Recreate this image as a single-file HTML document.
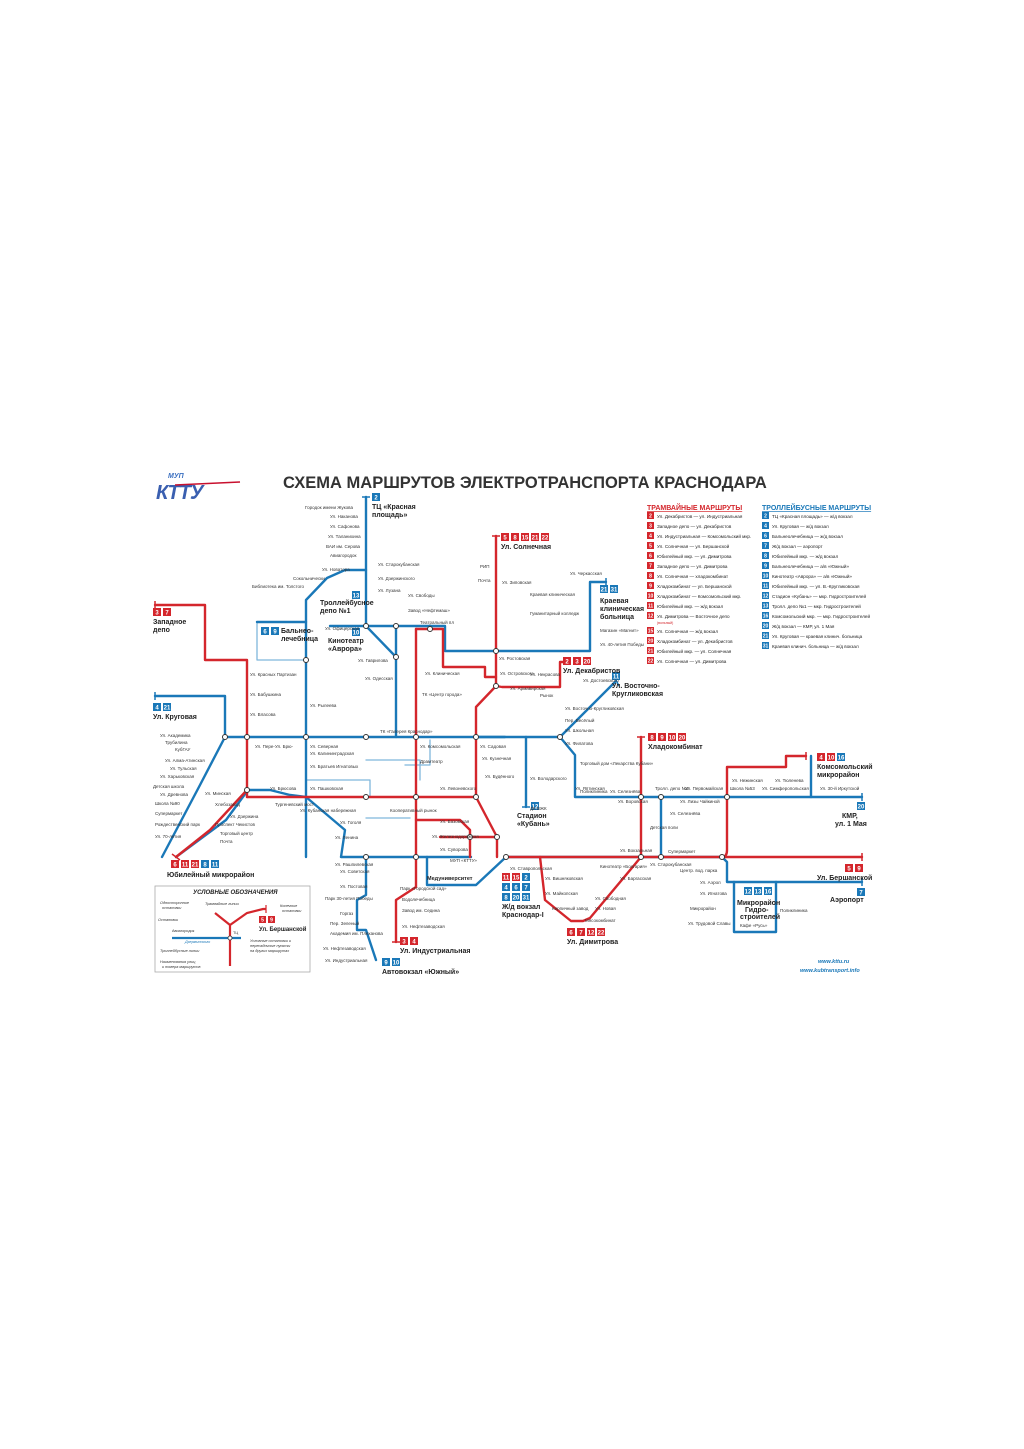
<!DOCTYPE html>
<html><head><meta charset="utf-8"><style>
html,body{margin:0;padding:0;background:#fff}
svg{display:block}
text{font-family:"Liberation Sans",sans-serif}
</style></head><body>
<svg width="1024" height="1449" viewBox="0 0 1024 1449" xmlns="http://www.w3.org/2000/svg">
<rect width="1024" height="1449" fill="#fff"/>
<!-- logo -->
<text x="168" y="478" font-size="7" font-style="italic" font-weight="bold" fill="#3a6fc0">МУП</text>
<text x="156" y="499" font-size="20" font-style="italic" font-weight="bold" fill="#3a5fb0" letter-spacing="-1">КТТУ</text>
<path d="M175 485 L240 482" stroke="#c8102e" stroke-width="1.5"/>
<!-- title -->
<text x="283" y="488" font-size="16.5" font-weight="bold" fill="#333">СХЕМА МАРШРУТОВ ЭЛЕКТРОТРАНСПОРТА КРАСНОДАРА</text>

<g fill="none" stroke-linecap="round" stroke-linejoin="round">
<!-- light blue lines -->
<g stroke="#7fb6dc" stroke-width="1.3">
<path d="M257 622 V660 H306"/>
<path d="M306 780 H370 V797"/>
<path d="M366 760 H420 V780"/>
<path d="M366 818 H410"/>
<path d="M430 740 V765 H405"/>
</g>
<!-- blue trolleybus -->
<g stroke="#1a78b8" stroke-width="2.4">
<path d="M257 622 H306"/>
<path d="M366 497 V626 L396 657"/>
<path d="M366 570 H345 L327 578 L306 600 V857"/>
<path d="M366 626 H330"/>
<path d="M366 626 H445 V651 H590 V582 H606"/>
<path d="M396 626 V737"/>
<path d="M155 696 H225 V737 L200 785 L162 857"/>
<path d="M225 737 H560"/>
<path d="M560 737 L575 755 V797 H862"/>
<path d="M560 737 L615 682"/>
<path d="M526 737 V807"/>
<path d="M476 737 H505"/>
<path d="M248 790 L226 820 L176 857"/>
<path d="M248 790 H270 L290 795 L306 797"/>
<path d="M306 797 L345 830 L341 857 H471"/>
<path d="M366 857 V895 L357 900 V930 H366 L376 960"/>
<path d="M506 857 L476 885 H427 V857"/>
<path d="M661 797 V857"/>
<path d="M506 857 H722 L727 862 V882 H862"/>
<path d="M734 882 V932 H776 V882"/>
<path d="M811 756 V797"/>
</g>
<!-- red tram -->
<g stroke="#d4262c" stroke-width="2.4">
<path d="M155 605 H205 V660 H247 V797"/>
<path d="M247 790 L210 830 L176 857"/>
<path d="M247 797 H476"/>
<path d="M496 536 V686 L476 707 V797 L497 837 V857"/>
<path d="M416 629 H443 V667 H485 V677 H496"/>
<path d="M496 686 L502 687 H560 V662 H565"/>
<path d="M416 629 V887 L396 900 V942"/>
<path d="M416 820 H460 L470 830 V857"/>
<path d="M440 837 H497"/>
<path d="M641 737 V857 L590 918 L583 921 H571 L545 900 L540 857"/>
<path d="M506 857 H862"/>
<path d="M722 857 Q727 857 727 850 V767 H786 V756 H806"/>
</g>
</g>
<!-- end caps -->
<g stroke="#d4262c" stroke-width="1.5">
<path d="M492 536 H500 M637 737 H645 M155 601 V609 M172 854 L180 860 M806 752 V760 M862 853 V861 M392 942 H400"/>
</g>
<g stroke="#1a78b8" stroke-width="1.5">
<path d="M362 497 H370 M155 692 V700 M522 807 H530 M862 878 V886 M606 578 V586 M615 678 L619 686 M862 793 V801"/>
</g>
<!-- transfer nodes -->
<g fill="#fff" stroke="#333" stroke-width="1">
<circle cx="225" cy="737" r="2.5"/><circle cx="247" cy="737" r="2.5"/><circle cx="306" cy="737" r="2.5"/>
<circle cx="366" cy="737" r="2.5"/><circle cx="416" cy="737" r="2.5"/><circle cx="476" cy="737" r="2.5"/>
<circle cx="560" cy="737" r="2.5"/><circle cx="366" cy="797" r="2.5"/><circle cx="416" cy="797" r="2.5"/>
<circle cx="476" cy="797" r="2.5"/><circle cx="366" cy="857" r="2.5"/><circle cx="416" cy="857" r="2.5"/>
<circle cx="506" cy="857" r="2.5"/><circle cx="641" cy="857" r="2.5"/><circle cx="661" cy="857" r="2.5"/>
<circle cx="722" cy="857" r="2.5"/><circle cx="641" cy="797" r="2.5"/><circle cx="727" cy="797" r="2.5"/>
<circle cx="496" cy="651" r="2.5"/><circle cx="366" cy="626" r="2.5"/><circle cx="396" cy="657" r="2.5"/>
<circle cx="430" cy="629" r="2.5"/><circle cx="247" cy="790" r="2.5"/><circle cx="470" cy="837" r="2.5"/><circle cx="497" cy="837" r="2.5"/>
<circle cx="306" cy="660" r="2.5"/><circle cx="396" cy="626" r="2.5"/><circle cx="496" cy="686" r="2.5"/><circle cx="661" cy="797" r="2.5"/>
</g>

<g font-size="6" font-weight="bold" fill="#fff" text-anchor="middle">
<rect x="372" y="493" width="8" height="8" fill="#1a78b8"/><text x="376" y="499.5">2</text>
<rect x="501" y="533" width="8" height="8" fill="#d4262c"/><rect x="511" y="533" width="8" height="8" fill="#d4262c"/><rect x="521" y="533" width="8" height="8" fill="#d4262c"/><rect x="531" y="533" width="8" height="8" fill="#d4262c"/><rect x="541" y="533" width="8" height="8" fill="#d4262c"/>
<text x="505" y="539.5">5</text><text x="515" y="539.5">8</text><text x="525" y="539.5">15</text><text x="535" y="539.5">21</text><text x="545" y="539.5">22</text>
<rect x="600" y="585" width="8" height="8" fill="#1a78b8"/><rect x="610" y="585" width="8" height="8" fill="#1a78b8"/><text x="604" y="591.5">21</text><text x="614" y="591.5">31</text>
<rect x="563" y="657" width="8" height="8" fill="#d4262c"/><rect x="573" y="657" width="8" height="8" fill="#d4262c"/><rect x="583" y="657" width="8" height="8" fill="#d4262c"/><text x="567" y="663.5">2</text><text x="577" y="663.5">3</text><text x="587" y="663.5">20</text>
<rect x="612" y="672" width="8" height="8" fill="#1a78b8"/><text x="616" y="678.5">11</text>
<rect x="153" y="608" width="8" height="8" fill="#d4262c"/><rect x="163" y="608" width="8" height="8" fill="#d4262c"/><text x="157" y="614.5">3</text><text x="167" y="614.5">7</text>
<rect x="153" y="703" width="8" height="8" fill="#1a78b8"/><rect x="163" y="703" width="8" height="8" fill="#1a78b8"/><text x="157" y="709.5">4</text><text x="167" y="709.5">21</text>
<rect x="261" y="627" width="8" height="8" fill="#1a78b8"/><rect x="271" y="627" width="8" height="8" fill="#1a78b8"/><text x="265" y="633.5">6</text><text x="275" y="633.5">9</text>
<rect x="352" y="591" width="8" height="8" fill="#1a78b8"/><text x="356" y="597.5">13</text>
<rect x="352" y="628" width="8" height="8" fill="#1a78b8"/><text x="356" y="634.5">10</text>
<rect x="648" y="733" width="8" height="8" fill="#d4262c"/><rect x="658" y="733" width="8" height="8" fill="#d4262c"/><rect x="668" y="733" width="8" height="8" fill="#d4262c"/><rect x="678" y="733" width="8" height="8" fill="#d4262c"/><text x="652" y="739.5">8</text><text x="662" y="739.5">9</text><text x="672" y="739.5">10</text><text x="682" y="739.5">20</text>
<rect x="817" y="753" width="8" height="8" fill="#d4262c"/><rect x="827" y="753" width="8" height="8" fill="#d4262c"/><rect x="837" y="753" width="8" height="8" fill="#1a78b8"/><text x="821" y="759.5">4</text><text x="831" y="759.5">10</text><text x="841" y="759.5">16</text>
<rect x="857" y="802" width="8" height="8" fill="#1a78b8"/><text x="861" y="808.5">20</text>
<rect x="531" y="802" width="8" height="8" fill="#1a78b8"/><text x="535" y="808.5">12</text>
<rect x="171" y="860" width="8" height="8" fill="#d4262c"/><rect x="181" y="860" width="8" height="8" fill="#d4262c"/><rect x="191" y="860" width="8" height="8" fill="#d4262c"/><rect x="201" y="860" width="8" height="8" fill="#1a78b8"/><rect x="211" y="860" width="8" height="8" fill="#1a78b8"/>
<text x="175" y="866.5">6</text><text x="185" y="866.5">11</text><text x="195" y="866.5">21</text><text x="205" y="866.5">8</text><text x="215" y="866.5">11</text>
<rect x="845" y="864" width="8" height="8" fill="#d4262c"/><rect x="855" y="864" width="8" height="8" fill="#d4262c"/><text x="849" y="870.5">5</text><text x="859" y="870.5">9</text>
<rect x="857" y="888" width="8" height="8" fill="#1a78b8"/><text x="861" y="894.5">7</text>
<rect x="744" y="887" width="8" height="8" fill="#1a78b8"/><rect x="754" y="887" width="8" height="8" fill="#1a78b8"/><rect x="764" y="887" width="8" height="8" fill="#1a78b8"/><text x="748" y="893.5">12</text><text x="758" y="893.5">13</text><text x="768" y="893.5">16</text>
<rect x="502" y="873" width="8" height="8" fill="#d4262c"/><rect x="512" y="873" width="8" height="8" fill="#d4262c"/><rect x="522" y="873" width="8" height="8" fill="#1a78b8"/><text x="506" y="879.5">11</text><text x="516" y="879.5">15</text><text x="526" y="879.5">2</text>
<rect x="502" y="883" width="8" height="8" fill="#1a78b8"/><rect x="512" y="883" width="8" height="8" fill="#1a78b8"/><rect x="522" y="883" width="8" height="8" fill="#1a78b8"/><text x="506" y="889.5">4</text><text x="516" y="889.5">6</text><text x="526" y="889.5">7</text>
<rect x="502" y="893" width="8" height="8" fill="#1a78b8"/><rect x="512" y="893" width="8" height="8" fill="#1a78b8"/><rect x="522" y="893" width="8" height="8" fill="#1a78b8"/><text x="506" y="899.5">8</text><text x="516" y="899.5">20</text><text x="526" y="899.5">31</text>
<rect x="567" y="928" width="8" height="8" fill="#d4262c"/><rect x="577" y="928" width="8" height="8" fill="#d4262c"/><rect x="587" y="928" width="8" height="8" fill="#d4262c"/><rect x="597" y="928" width="8" height="8" fill="#d4262c"/><text x="571" y="934.5">6</text><text x="581" y="934.5">7</text><text x="591" y="934.5">12</text><text x="601" y="934.5">22</text>
<rect x="400" y="937" width="8" height="8" fill="#d4262c"/><rect x="410" y="937" width="8" height="8" fill="#d4262c"/><text x="404" y="943.5">3</text><text x="414" y="943.5">4</text>
<rect x="382" y="958" width="8" height="8" fill="#1a78b8"/><rect x="392" y="958" width="8" height="8" fill="#1a78b8"/><text x="386" y="964.5">9</text><text x="396" y="964.5">10</text>
</g>

<g font-size="7" font-weight="bold" fill="#222">
<text x="372" y="509">ТЦ «Красная</text><text x="372" y="517">площадь»</text>
<text x="501" y="549">Ул. Солнечная</text>
<text x="600" y="603">Краевая</text><text x="600" y="611">клиническая</text><text x="600" y="619">больница</text>
<text x="563" y="673">Ул. Декабристов</text>
<text x="612" y="688">Ул. Восточно-</text><text x="612" y="696">Кругликовская</text>
<text x="153" y="624">Западное</text><text x="153" y="632">депо</text>
<text x="153" y="719">Ул. Круговая</text>
<text x="281" y="633">Бальнео-</text><text x="281" y="641">лечебница</text>
<text x="320" y="605">Троллейбусное</text><text x="320" y="613">депо №1</text>
<text x="328" y="643">Кинотеатр</text><text x="328" y="651">«Аврора»</text>
<text x="648" y="749">Хладокомбинат</text>
<text x="817" y="769">Комсомольский</text><text x="817" y="777">микрорайон</text>
<text x="842" y="818">КМР,</text><text x="835" y="826">ул. 1 Мая</text>
<text x="517" y="818">Стадион</text><text x="517" y="826">«Кубань»</text>
<text x="167" y="877">Юбилейный микрорайон</text>
<text x="817" y="880">Ул. Бершанской</text>
<text x="830" y="902">Аэропорт</text>
<text x="737" y="905">Микрорайон</text><text x="745" y="912">Гидро-</text><text x="740" y="919">строителей</text>
<text x="502" y="909">Ж/д вокзал</text><text x="502" y="917">Краснодар-I</text>
<text x="567" y="944">Ул. Димитрова</text>
<text x="400" y="953">Ул. Индустриальная</text>
<text x="382" y="974">Автовокзал «Южный»</text>
<text x="427" y="880" font-size="5.5">Медуниверситет</text>
</g>

<g font-size="4.5" fill="#333">
<text x="305" y="509">Городок имени Жукова</text>
<text x="330" y="518">Ул. Наканова</text><text x="330" y="528">Ул. Сафонова</text><text x="328" y="538">Ул. Таланихина</text>
<text x="326" y="548">ВАИ им. Серова</text><text x="330" y="557">Авиагородок</text>
<text x="378" y="566">Ул. Старокубанская</text><text x="322" y="571">Ул. Новатора</text>
<text x="293" y="580">Сокольнически</text><text x="378" y="580">Ул. Дзержинского</text>
<text x="252" y="588">Библиотека им. Толстого</text><text x="378" y="592">Ул. Лузана</text><text x="408" y="597">Ул. Свободы</text>
<text x="408" y="612">Завод «Нефтемаш»</text><text x="325" y="630">Ул. Офицерская</text>
<text x="420" y="624">Театральный пл</text><text x="358" y="662">Ул. Гаврилова</text><text x="365" y="680">Ул. Одесская</text>
<text x="425" y="675">Ул. Клиническая</text><text x="422" y="696">ТК «Центр города»</text>
<text x="502" y="584">Ул. Зиповская</text><text x="480" y="568">РИП</text><text x="478" y="582">Почта</text>
<text x="499" y="660">Ул. Ростовская</text><text x="500" y="675">Ул. Островского</text>
<text x="530" y="676">Ул. Некрасова</text><text x="510" y="690">Ул. Армавирская</text>
<text x="583" y="682">Ул. Достоевского</text><text x="600" y="632">Магазин «Магнит»</text><text x="600" y="646">Ул. 40-летия Победы</text>
<text x="530" y="596">Краевая клиническая</text><text x="530" y="615">Гуманитарный колледж</text><text x="570" y="575">Ул. Черкасская</text>
<text x="540" y="697">Рынок</text><text x="565" y="710">Ул. Восточно-Кругликовская</text><text x="565" y="722">Пер. Весёлый</text>
<text x="565" y="732">Ул. Школьная</text><text x="565" y="745">Ул. Филатова</text>
<text x="160" y="737">Ул. Академика</text><text x="165" y="744">Трубилина</text><text x="175" y="751">КубГАУ</text>
<text x="165" y="762">Ул. Алма-Атинская</text><text x="170" y="770">Ул. Тульская</text><text x="160" y="778">Ул. Харьковская</text>
<text x="153" y="788">Детская школа</text><text x="160" y="796">Ул. Древнова</text><text x="155" y="805">Школа №90</text>
<text x="155" y="815">Супермаркет</text><text x="155" y="826">Рождественский парк</text><text x="155" y="838">Ул. 70-летия</text>
<text x="205" y="795">Ул. Минская</text><text x="215" y="806">Хлебозавод</text><text x="230" y="818">Ул. Дзержина</text>
<text x="215" y="826">Проспект Чекистов</text><text x="220" y="835">Торговый центр</text><text x="220" y="843">Почта</text>
<text x="250" y="676">Ул. Красных Партизан</text><text x="250" y="696">Ул. Бабушкина</text><text x="250" y="716">Ул. Власова</text>
<text x="310" y="707">Ул. Рылеева</text><text x="255" y="748">Ул. Пере-</text><text x="275" y="748">Ул. Брю-</text>
<text x="310" y="748">Ул. Северная</text><text x="310" y="755">Ул. Калининградская</text><text x="310" y="768">Ул. Братьев Игнатовых</text>
<text x="270" y="790">Ул. Брюсова</text><text x="275" y="806">Тургеневский мост</text><text x="300" y="812">Ул. Кубанская набережная</text>
<text x="310" y="790">Ул. Пашковская</text><text x="340" y="824">Ул. Гоголя</text><text x="335" y="839">Ул. Ленина</text>
<text x="335" y="866">Ул. Рашпилевская</text><text x="340" y="873">Ул. Советская</text><text x="340" y="888">Ул. Постовая</text>
<text x="325" y="900">Парк 30-летия Победы</text><text x="340" y="915">Горгаз</text><text x="330" y="925">Пер. Зеленый</text>
<text x="330" y="935">Академия им. Плеханова</text><text x="323" y="950">Ул. Нефтезаводская</text><text x="325" y="962">Ул. Индустриальная</text>
<text x="380" y="733">ТК «Галерея Краснодар»</text><text x="420" y="763">Драмтеатр</text><text x="420" y="748">Ул. Комсомольская</text>
<text x="440" y="790">Ул. Левоневского</text><text x="390" y="812">Кооперативный рынок</text><text x="440" y="823">Ул. Базовская</text>
<text x="432" y="838">Ул. Железнодорожная</text><text x="440" y="851">Ул. Суворова</text><text x="450" y="862">МУП «КТТУ»</text>
<text x="400" y="890">Парк «Городской сад»</text><text x="402" y="901">Водолечебница</text><text x="402" y="912">Завод им. Седина</text>
<text x="402" y="928">Ул. Нефтезаводская</text><text x="480" y="748">Ул. Садовая</text><text x="482" y="760">Ул. Кузнечная</text>
<text x="485" y="778">Ул. Будённого</text><text x="530" y="780">Ул. Володарского</text><text x="530" y="810">ДК ВЖК</text>
<text x="580" y="765">Торговый дом «Лекарства Кубани»</text><text x="575" y="790">Ул. Яптинская</text>
<text x="580" y="793">Поликлиника</text><text x="610" y="793">Ул. Селезнёва</text><text x="618" y="803">Ул. Воровская</text>
<text x="655" y="790">Тролл. депо №2</text><text x="680" y="803">Ул. Лизы Чайкиной</text><text x="670" y="815">Ул. Селезнёва</text>
<text x="650" y="829">Детская поли</text><text x="620" y="852">Ул. Вокзальная</text><text x="668" y="853">Супермаркет</text>
<text x="685" y="790">Ул. Первомайская</text><text x="730" y="790">Школа №53</text><text x="762" y="790">Ул. Симферопольская</text>
<text x="732" y="782">Ул. Нежинская</text><text x="775" y="782">Ул. Тюленева</text><text x="820" y="790">Ул. 30-й Иркутской</text>
<text x="510" y="870">Ул. Ставропольская</text><text x="545" y="880">Ул. Вишняковская</text><text x="545" y="895">Ул. Майкопская</text>
<text x="552" y="910">Кирпичный завод</text><text x="595" y="900">Ул. Свободная</text><text x="595" y="910">Ул. Новая</text>
<text x="585" y="922">Мясокомбинат</text><text x="600" y="868">Кинотеатр «Болгария»</text><text x="620" y="880">Ул. Баргасская</text>
<text x="650" y="866">Ул. Старокубанская</text><text x="680" y="872">Центр. вод. парка</text><text x="700" y="884">Ул. Аэрол</text>
<text x="700" y="895">Ул. Игнатова</text><text x="690" y="910">Микрорайон</text><text x="688" y="925">Ул. Трудовой Славы</text>
<text x="740" y="927">Кафе «Русь»</text><text x="780" y="912">Поликлиника</text>
</g>

<g font-size="6.2" font-weight="bold">
<text x="647" y="510" fill="#d4262c" font-size="7" text-decoration="underline">ТРАМВАЙНЫЕ МАРШРУТЫ</text>
<text x="762" y="510" fill="#1a78b8" font-size="7" text-decoration="underline">ТРОЛЛЕЙБУСНЫЕ МАРШРУТЫ</text>
</g>
<g font-size="4.6" fill="#222">
<g fill="#d4262c">
<rect x="647" y="512" width="7" height="7"/><rect x="647" y="522" width="7" height="7"/><rect x="647" y="532" width="7" height="7"/><rect x="647" y="542" width="7" height="7"/><rect x="647" y="552" width="7" height="7"/><rect x="647" y="562" width="7" height="7"/><rect x="647" y="572" width="7" height="7"/><rect x="647" y="582" width="7" height="7"/><rect x="647" y="592" width="7" height="7"/><rect x="647" y="602" width="7" height="7"/><rect x="647" y="612" width="7" height="7"/><rect x="647" y="627" width="7" height="7"/><rect x="647" y="637" width="7" height="7"/><rect x="647" y="647" width="7" height="7"/><rect x="647" y="657" width="7" height="7"/>
</g>
<g fill="#1a78b8">
<rect x="762" y="512" width="7" height="7"/><rect x="762" y="522" width="7" height="7"/><rect x="762" y="532" width="7" height="7"/><rect x="762" y="542" width="7" height="7"/><rect x="762" y="552" width="7" height="7"/><rect x="762" y="562" width="7" height="7"/><rect x="762" y="572" width="7" height="7"/><rect x="762" y="582" width="7" height="7"/><rect x="762" y="592" width="7" height="7"/><rect x="762" y="602" width="7" height="7"/><rect x="762" y="612" width="7" height="7"/><rect x="762" y="622" width="7" height="7"/><rect x="762" y="632" width="7" height="7"/><rect x="762" y="642" width="7" height="7"/>
</g>
<g fill="#fff" font-weight="bold" text-anchor="middle" font-size="5">
<text x="650.5" y="517.5">2</text><text x="650.5" y="527.5">3</text><text x="650.5" y="537.5">4</text><text x="650.5" y="547.5">5</text><text x="650.5" y="557.5">6</text><text x="650.5" y="567.5">7</text><text x="650.5" y="577.5">8</text><text x="650.5" y="587.5">9</text><text x="650.5" y="597.5">10</text><text x="650.5" y="607.5">11</text><text x="650.5" y="617.5">12</text><text x="650.5" y="632.5">15</text><text x="650.5" y="642.5">20</text><text x="650.5" y="652.5">21</text><text x="650.5" y="662.5">22</text>
<text x="765.5" y="517.5">2</text><text x="765.5" y="527.5">4</text><text x="765.5" y="537.5">6</text><text x="765.5" y="547.5">7</text><text x="765.5" y="557.5">8</text><text x="765.5" y="567.5">9</text><text x="765.5" y="577.5">10</text><text x="765.5" y="587.5">11</text><text x="765.5" y="597.5">12</text><text x="765.5" y="607.5">13</text><text x="765.5" y="617.5">16</text><text x="765.5" y="627.5">20</text><text x="765.5" y="637.5">21</text><text x="765.5" y="647.5">31</text>
</g>
<text x="657" y="518">Ул. Декабристов — ул. Индустриальная</text>
<text x="657" y="528">Западное депо — ул. Декабристов</text>
<text x="657" y="538">Ул. Индустриальная — Комсомольский мкр.</text>
<text x="657" y="548">Ул. Солнечная — ул. Бершанской</text>
<text x="657" y="558">Юбилейный мкр. — ул. Димитрова</text>
<text x="657" y="568">Западное депо — ул. Димитрова</text>
<text x="657" y="578">Ул. Солнечная — хладокомбинат</text>
<text x="657" y="588">Хладокомбинат — ул. Бершанской</text>
<text x="657" y="598">Хладокомбинат — Комсомольский мкр.</text>
<text x="657" y="608">Юбилейный мкр. — ж/д вокзал</text>
<text x="657" y="618">Ул. Димитрова — Восточное депо</text>
<text x="657" y="624" font-size="3.5" fill="#d4262c">(вольный)</text>
<text x="657" y="633">Ул. Солнечная — ж/д вокзал</text>
<text x="657" y="643">Хладокомбинат — ул. Декабристов</text>
<text x="657" y="653">Юбилейный мкр. — ул. Солнечная</text>
<text x="657" y="663">Ул. Солнечная — ул. Димитрова</text>
<text x="772" y="518">ТЦ «Красная площадь» — ж/д вокзал</text>
<text x="772" y="528">Ул. Круговая — ж/д вокзал</text>
<text x="772" y="538">Бальнеолечебница — ж/д вокзал</text>
<text x="772" y="548">Ж/д вокзал — аэропорт</text>
<text x="772" y="558">Юбилейный мкр. — ж/д вокзал</text>
<text x="772" y="568">Бальнеолечебница — а/в «Южный»</text>
<text x="772" y="578">Кинотеатр «Аврора» — а/в «Южный»</text>
<text x="772" y="588">Юбилейный мкр. — ул. В.-Кругликовская</text>
<text x="772" y="598">Стадион «Кубань» — мкр. Гидростроителей</text>
<text x="772" y="608">Тролл. депо №1 — мкр. Гидростроителей</text>
<text x="772" y="618">Комсомольский мкр. — мкр. Гидростроителей</text>
<text x="772" y="628">Ж/д вокзал — КМР, ул. 1 Мая</text>
<text x="772" y="638">Ул. Круговая — краевая клинич. больница</text>
<text x="772" y="648">Краевая клинич. больница — ж/д вокзал</text>
</g>

<rect x="155" y="886" width="155" height="86" fill="#fff" stroke="#aaa" stroke-width="0.8"/>
<text x="193" y="894" font-size="6" font-weight="bold" font-style="italic" fill="#222">УСЛОВНЫЕ ОБОЗНАЧЕНИЯ</text>
<g fill="none" stroke-width="2.2">
<path d="M172 938 H241" stroke="#1a78b8"/>
<path d="M215 913 L230 925 L247 913 L263 909 H266 M230 925 V966" stroke="#d4262c"/>
<path d="M266 905 V913" stroke="#d4262c" stroke-width="1.2"/>
</g>
<circle cx="230" cy="938" r="2" fill="#fff" stroke="#333" stroke-width="0.8"/>
<g font-size="3.8" fill="#333" font-style="italic">
<text x="160" y="904">Односторонние</text><text x="162" y="909">остановки</text>
<text x="205" y="905">Трамвайные линии</text><text x="280" y="907">Конечные</text><text x="282" y="912">остановки</text>
<text x="158" y="921">Остановки</text><text x="172" y="932" font-style="normal">Авиагородок</text>
<text x="185" y="943" fill="#1a78b8">Дзержинского</text><text x="160" y="952">Троллейбусные линии</text>
<text x="250" y="942">Условные остановки и</text><text x="250" y="947">пересадочные пункты</text><text x="250" y="952">на других маршрутах</text>
<text x="160" y="963">Наименования улиц</text><text x="162" y="968">и номера маршрутов</text>
<text x="233" y="934" font-style="normal">ТЦ</text>
</g>
<rect x="259" y="916" width="7" height="7" fill="#d4262c"/><rect x="268" y="916" width="7" height="7" fill="#d4262c"/>
<text x="262.5" y="921.5" font-size="5" fill="#fff" font-weight="bold" text-anchor="middle">5</text><text x="271.5" y="921.5" font-size="5" fill="#fff" font-weight="bold" text-anchor="middle">9</text>
<text x="259" y="931" font-size="6" font-weight="bold" fill="#222">Ул. Бершанской</text>

<text x="818" y="963" font-size="5.5" font-weight="bold" font-style="italic" fill="#1a78b8">www.kttu.ru</text>
<text x="800" y="972" font-size="5.5" font-weight="bold" font-style="italic" fill="#1a78b8">www.kubtransport.info</text>
</svg>
</body></html>
